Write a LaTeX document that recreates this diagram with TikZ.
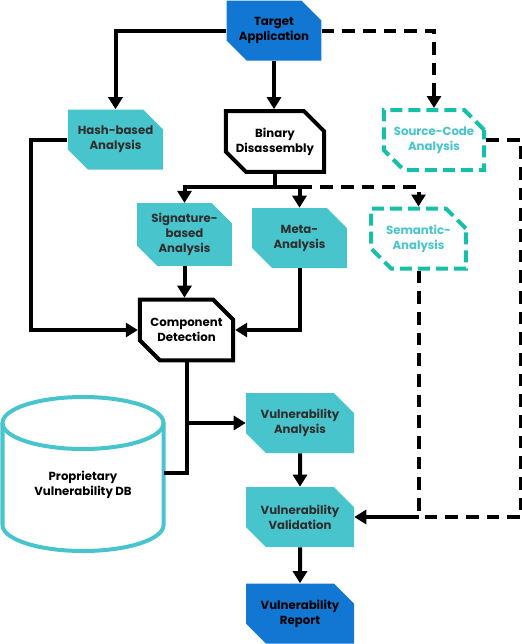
\documentclass[tikz,border=0pt]{standalone}
\usepackage{fontspec}
\setmainfont{Poppins}
\usetikzlibrary{arrows.meta,shapes.misc,positioning}

\definecolor{appblue}{HTML}{1177D2}
\definecolor{stepcyan}{HTML}{48C4CC}
\definecolor{srcteal}{HTML}{17BEA8}
\definecolor{labelgray}{HTML}{2E2E2E}

\tikzset{
	box/.style={chamfered rectangle, chamfered rectangle corners={north east,south west},
		chamfered rectangle xsep=7.5pt, chamfered rectangle ysep=7.5pt, inner sep=0pt,
		minimum width=71pt, minimum height=45pt, align=center,
		font=\bfseries\fontsize{8.8}{11.3}\selectfont},
	bluebox/.style={box, fill=appblue, text=black},
	cyanbox/.style={box, fill=stepcyan, text=labelgray},
	blackbox/.style={box, draw=black, line width=3pt, fill=white, text=black,
		minimum width=70pt, minimum height=45.5pt},
	tealbox/.style={box, draw=srcteal, line width=3pt, dash pattern=on 9pt off 4.5pt,
		text=stepcyan, minimum width=71pt, minimum height=45pt},
	dbline/.style={draw=stepcyan, line width=3pt},
	dbtext/.style={align=center, text=black, font=\bfseries\fontsize{8.8}{11.3}\selectfont},
	line/.style={line width=3pt, draw=black},
	flow/.style={line, -{Triangle[length=9pt,width=10.5pt]}},
	dline/.style={line, dash pattern=on 9.5pt off 6pt},
	dflow/.style={dline, -{Triangle[length=9pt,width=10.5pt]}}
}

\begin{document}
\begin{tikzpicture}[x=0.75pt,y=-0.75pt]
	\useasboundingbox (0,0) rectangle (522,644);

	% Source nodes
	\node[bluebox] (app) at (274,30.5) {Target\\Application};
	\node[cyanbox] (hash) at (115.5,139.5) {Hash-based\\Analysis};
	\node[blackbox] (bin) at (275,141.5) {Binary\\Disassembly};
	\node[tealbox] (src) at (434,140) {Source-Code\\Analysis};

	% Second level
	\node[cyanbox] (sig) at (184.5,234.5) {Signature-\\based\\Analysis};
	\node[cyanbox] (meta) at (299.5,238) {Meta-\\Analysis};
	\node[tealbox] (sem) at (418.5,238.5) {Semantic-\\Analysis};
	\node[blackbox] (comp) at (186.5,330) {Component\\Detection};

	% Vulnerability chain
	\node[cyanbox, minimum width=81pt] (va) at (300,423) {Vulnerability\\Analysis};
	\node[cyanbox, minimum width=81pt] (vv) at (300,517) {Vulnerability\\Validation};
	\node[bluebox, minimum width=81pt] (vr) at (300,613.5) {Vulnerability\\Report};

	% Database
	\draw[dbline] (83,423) ellipse [x radius=60.4pt, y radius=19.5pt];
	\draw[dbline] (2.5,423) -- (2.5,525) arc[start angle=180, end angle=360, x radius=60.4pt, y radius=19.5pt] -- (163.5,423);
	\node[dbtext] (db) at (83,485) {Proprietary\\Vulnerability DB};
	\coordinate (dbside) at (163.5,473);

	% Connectors from the application
	\draw[flow] (app.west) -| (hash.north);
	\draw[flow] (app.south) -- (app.south |- bin.north);
	\draw[dflow] (app.east) -| (src.north);

	% Disassembly split
	\coordinate (split) at (274,187);
	\draw[flow] (bin.south |- split) -| (sig.north);
	\draw[line] (bin.south) -- (bin.south |- split);
	\draw[flow] (bin.south |- split) -| (meta.north);
	\draw[dflow] (meta.north |- split) -| (sem.north);

	% Into component detection
	\draw[flow] (hash.west) -- ++(-36,0) |- (comp.west);
	\draw[flow] (sig.south) -- (sig.south |- comp.north);
	\draw[flow] (meta.south) |- (comp.east);

	% Detection and database into analysis
	\draw[flow] (comp.south) |- (va.west);
	\draw[line] (dbside) -| (comp.south);
	\draw[flow] (va) -- (vv);
	\draw[flow] (vv) -- (vr);

	% Source-level results into validation
	\draw[dline] (sem.south) -- (sem.south |- vv.east);
	\draw[dline] (src.east) -- ++(35,0) |- (sem.south |- vv.east);
	\draw[flow] (sem.south |- vv.east) -- (vv.east);
\end{tikzpicture}
\end{document}
